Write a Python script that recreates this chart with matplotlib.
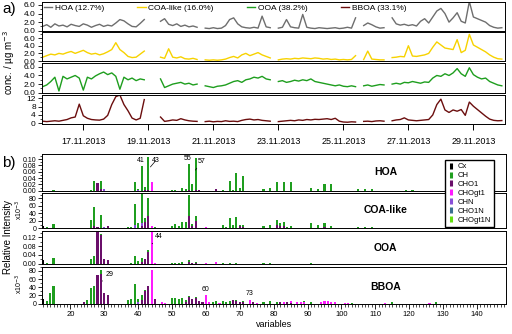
import numpy as np
import matplotlib
matplotlib.use('Agg')
import matplotlib.pyplot as plt
import matplotlib.dates as mdates
from matplotlib.lines import Line2D
from matplotlib.ticker import MultipleLocator, FormatStrFormatter
import matplotlib.transforms as mtransforms

plt.rcParams['font.family'] = ['Liberation Sans', 'DejaVu Sans']

nan = np.nan

# ---- a) factor time series, 3-hourly readings starting 15.11.2013 18:00 ----
t_start = np.datetime64('2013-11-15T18:00')

hoa_ts = [1.0, 1.4, 0.8, 1.6, 1.1, 1.3, 0.9, 1.5, 1.2, 1.0, 1.6, 1.3, 0.8, 1.2, 1.5, 1.0, 1.3, 1.1, 1.8, 2.6,
          2.3, 1.6, 1.0, 0.9, 1.7, 2.6, nan, nan, nan,
          2.2, 2.8, 1.5, 1.2, 1.6, 1.0, 1.3, 0.9, 1.1, 0.8, nan,
          0.6, 0.5, 0.7, 0.5, 0.6, 1.2, 2.6, 3.0, 1.6, 0.9, 0.7, 0.6, 0.8, 0.6, 3.4, 0.9, 0.7, nan,
          0.6, 0.8, 2.6, 0.9, 0.7, 0.6, 3.8, 0.8, 0.6, 0.5, 0.7, 0.6, 0.5, 0.6, 0.7, 0.5, 0.6, 0.8, 0.6, 3.0, nan,
          1.2, 1.8, 1.4, 0.9, 0.6, 0.7, nan,
          3.0, 1.6, 1.3, 1.5, 1.2, 1.4, 1.1, 2.2, 2.8, 1.8, 3.2, 4.6, 5.2, 4.0, 2.0, 3.0, 4.2, 2.2, 1.8, 6.8,
          3.2, 2.8, 2.4, 2.0, 1.2, 0.8, 0.6, 0.7]
coa_ts = [1.0, 1.4, 1.8, 1.6, 2.0, 1.8, 2.2, 2.5, 2.0, 2.4, 2.8, 2.2, 1.8, 2.0, 1.6, 1.9, 2.4, 3.0, 4.8, 3.0,
          2.2, 1.2, 0.9, 1.0, 1.8, 2.6, nan, nan, nan,
          1.0, 0.7, 3.2, 1.0, 0.8, 1.1, 0.6, 0.5, 0.7, 0.4, nan,
          0.3, 0.2, 0.3, 0.2, 0.3, 0.5, 0.9, 1.2, 0.8, 1.6, 2.0, 1.4, 1.8, 2.2, 1.6, 1.2, 0.8, nan,
          0.3, 0.5, 0.6, 0.5, 0.7, 0.6, 0.8, 0.7, 0.6, 0.8, 0.7, 0.5, 0.6, 0.4, 0.5, 0.3, 0.4, 0.3, 0.4, 1.4, nan,
          0.4, 2.6, 0.5, 0.4, 0.3, 0.3, nan,
          0.9, 1.0, 1.2, 1.1, 4.0, 1.3, 1.2, 1.4, 1.6, 2.0, 3.6, 5.0, 4.2, 3.4, 3.2, 3.0, 5.6, 2.2, 2.8, 7.0,
          4.2, 3.6, 3.0, 2.4, 1.6, 1.0, 0.6, 0.5]
ooa_ts = [1.4, 1.8, 2.6, 3.6, 0.4, 3.8, 3.2, 3.6, 4.0, 3.4, 0.6, 3.6, 3.2, 3.9, 4.4, 4.8, 4.2, 4.6, 3.8, 0.8,
          3.6, 3.0, 3.4, 2.8, 3.2, 3.0, nan, nan, nan,
          3.2, 1.2, 1.6, 2.0, 2.2, 2.4, 2.0, 2.2, 1.8, 2.0, nan,
          1.6, 1.4, 1.2, 1.5, 1.6, 1.8, 2.2, 2.6, 2.8, 2.4, 3.0, 3.2, 3.6, 3.4, 3.8, 3.2, 3.0, nan,
          2.6, 2.8, 2.4, 2.6, 2.9, 2.7, 3.0, 2.8, 3.2, 2.6, 2.4, 2.2, 2.0, 1.8, 1.6, 1.8, 1.5, 1.4, 1.6, 1.4, nan,
          1.6, 1.8, 1.5, 1.7, 1.9, 1.8, nan,
          2.0, 2.2, 2.0, 2.4, 2.3, 2.6, 2.4, 2.2, 2.5, 2.4, 3.4, 4.0, 3.8, 4.4, 4.0, 4.6, 5.6, 4.4, 3.8, 5.8,
          4.2, 3.6, 3.2, 3.4, 2.6, 2.2, 1.8, 1.6]
bboa_ts = [1.0, 0.8, 1.0, 1.2, 1.0, 1.4, 1.8, 2.6, 3.0, 9.2, 3.6, 2.4, 1.8, 1.6, 1.5, 2.0, 3.8, 9.0, 12.8, 13.6,
           9.0, 6.0, 2.5, 1.6, 2.4, 11.4, nan, nan, nan,
           3.0, 0.9, 1.2, 1.6, 1.4, 2.2, 1.6, 1.2, 1.0, 0.9, nan,
           0.8, 1.0, 0.7, 0.9, 0.8, 1.2, 0.9, 1.0, 0.8, 1.4, 1.8, 2.0, 1.6, 1.8, 1.4, 1.2, 1.0, nan,
           0.8, 1.0, 1.2, 1.4, 1.2, 1.6, 1.4, 1.8, 1.6, 1.9, 1.8, 2.0, 2.2, 1.8, 2.4, 1.0, 0.6, 0.5, 0.7, 0.6, nan,
           0.9, 1.0, 0.8, 1.1, 1.2, 1.0, nan,
           1.2, 1.6, 1.8, 2.6, 1.6, 1.4, 1.2, 1.4, 1.6, 1.8, 4.0, 9.0, 11.6, 6.4, 5.2, 6.4, 5.8, 6.6, 3.8, 10.2,
           8.2, 6.6, 5.0, 3.4, 2.0, 1.4, 1.2, 1.3]

ts_labels = ['HOA (12.7%)', 'COA-like (16.0%)', 'OOA (38.2%)', 'BBOA (33.1%)']
ts_colors = ['#6e6e6e', '#f7d200', '#1e9e1e', '#6b0e0e']

# ---- b) factor profiles (m/z -> value), split by ion family ----
hoa_ch = {15: 0.002, 26: 0.003, 27: 0.031, 29: 0.026, 39: 0.028, 40: 0.004, 41: 0.078, 42: 0.011,
          43: 0.105, 50: 0.002, 51: 0.003, 53: 0.007, 54: 0.006, 55: 0.083, 56: 0.020, 57: 0.102,
          65: 0.003, 67: 0.030, 68: 0.003, 69: 0.057, 70: 0.010, 71: 0.047, 77: 0.006, 79: 0.010,
          81: 0.028, 83: 0.028, 85: 0.028, 91: 0.010, 93: 0.006, 95: 0.020, 97: 0.020, 105: 0.005,
          107: 0.005, 109: 0.006, 119: 0.002, 121: 0.002}
hoa_cho1 = {28: 0.025, 29: 0.004, 42: 0.002, 43: 0.003, 55: 0.002, 57: 0.002, 58: 0.003, 63: 0.005}
hoa_chogt1 = {44: 0.027}
hoa_chn = {30: 0.004, 40: 0.002}

coa_ch = {13: 3, 15: 12, 26: 22, 27: 53, 29: 34, 37: 3, 38: 4, 39: 55, 40: 13, 41: 80, 42: 12, 43: 48,
          45: 3, 50: 5, 51: 12, 52: 5, 53: 16, 54: 16, 55: 57, 56: 6, 57: 12, 65: 10, 66: 4, 67: 28,
          68: 10, 69: 29, 70: 2, 71: 4, 77: 5, 79: 10, 81: 14, 82: 8, 83: 12, 84: 3, 85: 6, 91: 15,
          93: 8, 95: 10, 97: 5, 105: 3, 107: 3, 109: 3, 115: 2, 119: 2, 121: 2}
coa_cx = {12: 5}
coa_cho1 = {27: 5, 28: 4, 29: 2, 31: 6, 41: 5, 42: 16, 43: 33, 55: 33, 56: 6, 57: 20, 70: 6, 71: 4,
            81: 8, 82: 6, 83: 6, 95: 3}
coa_chogt1 = {44: 5, 60: 3}
coa_chn = {30: 4, 39: 10, 41: 10}

ooa_cx = {12: 0.019}
ooa_ch = {13: 0.003, 15: 0.026, 26: 0.023, 27: 0.036, 29: 0.006, 38: 0.004, 39: 0.035, 40: 0.012,
          41: 0.020, 43: 0.008, 50: 0.003, 51: 0.005, 52: 0.003, 53: 0.006, 55: 0.006, 57: 0.004,
          65: 0.003, 67: 0.004, 69: 0.004, 77: 0.003, 79: 0.004, 91: 0.004}
ooa_cho1 = {28: 0.145, 29: 0.128, 30: 0.020, 31: 0.017, 41: 0.008, 42: 0.020, 43: 0.055, 55: 0.010,
            56: 0.003, 57: 0.003}
ooa_chogt1 = {44: 0.148, 45: 0.005, 60: 0.003, 63: 0.010}

bboa_cx = {12: 12}
bboa_ch = {13: 5, 14: 25, 15: 42, 25: 8, 26: 38, 27: 44, 29: 9, 37: 8, 38: 12, 39: 48, 40: 6, 41: 14,
           42: 2, 50: 13, 51: 14, 52: 12, 53: 14, 54: 6, 55: 3, 57: 3, 62: 4, 63: 7, 65: 7, 66: 4,
           67: 5, 69: 3, 71: 2, 77: 3, 79: 5, 81: 4, 89: 4, 91: 4, 103: 2, 115: 3, 128: 3}
bboa_cho1 = {24: 3, 28: 70, 29: 73, 30: 26, 31: 20, 41: 8, 42: 30, 43: 42, 45: 12, 54: 3, 55: 16,
             56: 10, 57: 14, 58: 6, 59: 3, 68: 9, 69: 6, 70: 4, 71: 4, 74: 3, 82: 3, 84: 3, 85: 2}
bboa_chogt1 = {44: 83, 47: 3, 48: 2, 60: 21, 61: 3, 64: 2, 73: 9, 75: 2, 83: 4, 85: 4, 87: 4, 88: 3,
               89: 3, 94: 4, 95: 5, 96: 5, 97: 4, 98: 3, 101: 2, 102: 2, 113: 2, 126: 2}
bboa_chn = {40: 4}

fam_names = ['Cx', 'CH', 'CHO1', 'CHOgt1', 'CHN', 'CHO1N', 'CHOgt1N']
fam_colors = ['#000000', '#1f9e1f', '#6a0f6a', '#ff1aff', '#8a4fd8', '#3a6f8f', '#66e010']

mz = np.arange(12, 149)


def to_array(d):
    a = np.zeros(len(mz))
    for k, v in d.items():
        a[k - 12] = v
    return a


profiles = [
    ('HOA', {'Cx': {}, 'CHO1': hoa_cho1, 'CHOgt1': hoa_chogt1, 'CHN': hoa_chn, 'CH': hoa_ch}),
    ('COA-like', {'Cx': coa_cx, 'CHO1': coa_cho1, 'CHOgt1': coa_chogt1, 'CHN': coa_chn, 'CH': coa_ch}),
    ('OOA', {'Cx': ooa_cx, 'CHO1': ooa_cho1, 'CHOgt1': ooa_chogt1, 'CH': ooa_ch}),
    ('BBOA', {'Cx': bboa_cx, 'CHO1': bboa_cho1, 'CHOgt1': bboa_chogt1, 'CHN': bboa_chn, 'CH': bboa_ch}),
]
stack_order = ['Cx', 'CHO1', 'CHOgt1', 'CHN', 'CHO1N', 'CHOgt1N', 'CH']

W, H = 512, 334
fig = plt.figure(figsize=(W / 100, H / 100), dpi=100)


def add_ax(top, bottom, left=42, right=505):
    return fig.add_axes([left / W, 1 - bottom / H, (right - left) / W, (bottom - top) / H])


def style(ax):
    for s in ax.spines.values():
        s.set_linewidth(0.7)
    ax.tick_params(axis='y', which='major', direction='out', length=3, width=0.6, labelsize=6, pad=1.5)
    ax.tick_params(axis='y', which='minor', direction='out', length=1.6, width=0.5)


# ---- panel a ----
times = t_start + np.arange(len(hoa_ts)) * np.timedelta64(3, 'h')
ts_data = [hoa_ts, coa_ts, ooa_ts, bboa_ts]
ts_boxes = [(2, 30.7), (32, 61), (63, 92.7), (95, 124.3)]
ts_ylims = [(0, 6.7), (0, 7.6), (0, 6.9), (-0.5, 13.6)]
xlo = np.datetime64('2013-11-15T17:30')
xhi = np.datetime64('2013-11-29T23:20')
ts_axes = []
for k in range(4):
    ax = add_ax(*ts_boxes[k])
    ax.plot(times, ts_data[k], color=ts_colors[k], lw=1.0)
    ax.set_xlim(xlo, xhi)
    ax.set_ylim(*ts_ylims[k])
    style(ax)
    if k < 3:
        ax.yaxis.set_major_locator(MultipleLocator(2))
        ax.yaxis.set_minor_locator(MultipleLocator(1))
        ax.yaxis.set_major_formatter(FormatStrFormatter('%.1f'))
        ax.set_yticks([0, 2, 4, 6])
        ax.tick_params(axis='x', bottom=False, labelbottom=False)
    else:
        ax.set_yticks([0, 4, 8, 12])
        ax.yaxis.set_minor_locator(MultipleLocator(2))
        ax.xaxis.set_major_locator(mdates.DayLocator(bymonthday=[17, 19, 21, 23, 25, 27, 29]))
        ax.xaxis.set_major_formatter(mdates.DateFormatter('%d.%m.%Y'))
        ax.tick_params(axis='x', direction='out', length=4, width=0.7, labelsize=6.5, pad=5)
    ts_axes.append(ax)

handles = [Line2D([], [], color=c, lw=1.0) for c in ts_colors]
fig.legend(handles, ts_labels, loc='center left', bbox_to_anchor=(44 / W, 1 - 8 / H), ncol=4,
           frameon=False, fontsize=6, handlelength=1.0, handletextpad=0.3, columnspacing=4.0,
           borderpad=0, borderaxespad=0)

fig.text(9 / W, 1 - 63 / H, 'conc. / µg m$^{-3}$', rotation=90, ha='center', va='center', fontsize=7)
fig.text(2 / W, 1 - 9 / H, 'a)', ha='left', va='center', fontsize=11)

# ---- panel b ----
pr_boxes = [(154, 190.7), (192.5, 228.3), (230.5, 263.8), (266.5, 303.5)]
pr_ylims = [0.116, 95.5, 0.150, 91]
pr_major = [0.02, 20, 0.04, 20]
pr_minor = [0.01, 10, 0.02, 10]
pr_fmt = ['%.2f', '%d', '%.2f', '%d']
pr_label_y = [0.51, 0.51, 0.48, 0.44]
pr_axes = []
for k, (name, fams) in enumerate(profiles):
    ax = add_ax(*pr_boxes[k], right=506)
    bottom = np.zeros(len(mz))
    for f in stack_order:
        if f not in fams:
            continue
        vals = to_array(fams[f])
        ax.bar(mz, vals, width=0.62, bottom=bottom, color=fam_colors[fam_names.index(f)], linewidth=0)
        bottom = bottom + vals
    ax.set_xlim(11.6, 148.6)
    ax.set_ylim(0, pr_ylims[k])
    style(ax)
    ax.tick_params(axis='y', labelsize=5, pad=1.2)
    ax.yaxis.set_major_locator(MultipleLocator(pr_major[k]))
    ax.yaxis.set_minor_locator(MultipleLocator(pr_minor[k]))
    ax.yaxis.set_major_formatter(FormatStrFormatter(pr_fmt[k]))
    trans = mtransforms.blended_transform_factory(ax.transData, ax.transAxes)
    ax.text(113, pr_label_y[k], name, transform=trans, ha='center', va='center',
            fontsize=7.5, fontweight='bold')
    if k < 3:
        ax.tick_params(axis='x', bottom=False, labelbottom=False)
    else:
        ax.xaxis.set_major_locator(MultipleLocator(10))
        ax.xaxis.set_minor_locator(MultipleLocator(1))
        ax.set_xticks(np.arange(20, 141, 10))
        ax.tick_params(axis='x', which='major', direction='out', length=3.5, width=0.6, labelsize=5.5, pad=2)
        ax.tick_params(axis='x', which='minor', direction='out', length=2.2, width=0.5)
        ax.set_xlabel('variables', fontsize=6.5, labelpad=1)
    pr_axes.append(ax)

lead = dict(arrowstyle='-', lw=0.5, color='black', shrinkA=0, shrinkB=0)
ann = dict(fontsize=5, ha='center', va='center')
pr_axes[0].text(40.8, 0.094, '41', **ann)
pr_axes[0].annotate('43', xy=(43.6, 0.075), xytext=(45.1, 0.094), arrowprops=lead, **ann)
pr_axes[0].text(54.5, 0.103, '55', **ann)
pr_axes[0].annotate('57', xy=(56.9, 0.065), xytext=(58.6, 0.091), arrowprops=lead, **ann)
pr_axes[2].annotate('44', xy=(44.1, 0.090), xytext=(46.1, 0.121), arrowprops=lead, **ann)
pr_axes[3].annotate('29', xy=(29.4, 55), xytext=(31.5, 71), arrowprops=lead, **ann)
pr_axes[3].text(60.0, 34, '60', **ann)
pr_axes[3].text(73.0, 24, '73', **ann)

fam_handles = [Line2D([], [], marker='|', linestyle='none', markersize=5, mew=2.2, color=c)
               for c in fam_colors]
fig.legend(fam_handles, fam_names, loc='upper left', bbox_to_anchor=(445 / W, 1 - 160 / H),
           fontsize=5.5, frameon=True, fancybox=False, edgecolor='black', framealpha=1,
           handlelength=0.8, handletextpad=0.4, labelspacing=0.2, borderpad=0.4, borderaxespad=0)

fig.text(8 / W, 1 - 237 / H, 'Relative Intensity', rotation=90, ha='center', va='center', fontsize=7)
fig.text(19 / W, 1 - 210 / H, 'x10$^{-3}$', rotation=90, ha='center', va='center', fontsize=5)
fig.text(19 / W, 1 - 284 / H, 'x10$^{-3}$', rotation=90, ha='center', va='center', fontsize=5)
fig.text(2 / W, 1 - 163 / H, 'b)', ha='left', va='center', fontsize=11)

fig.savefig('out.png', dpi=100)
